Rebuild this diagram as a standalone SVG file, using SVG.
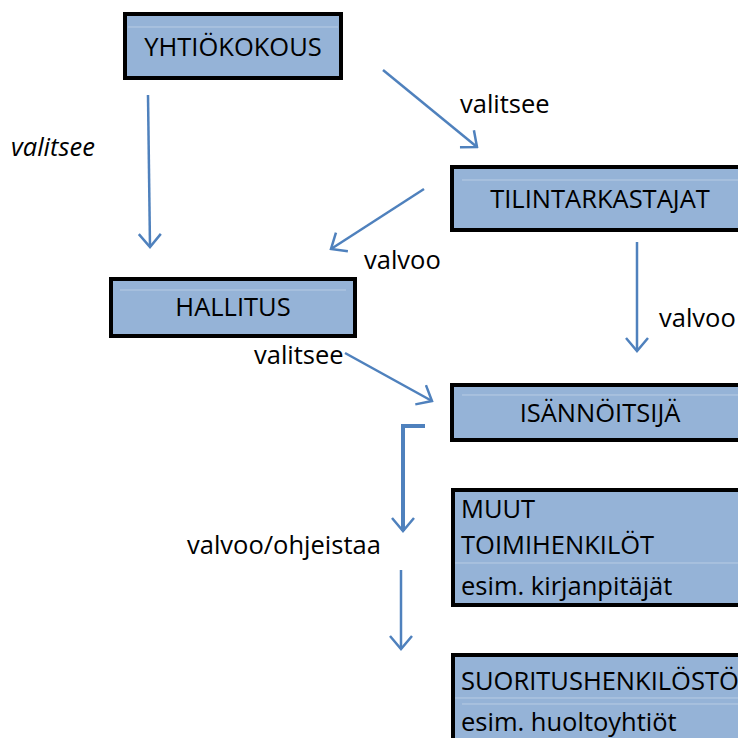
<svg xmlns="http://www.w3.org/2000/svg" width="738" height="738" viewBox="0 0 738 738">
<style>
.box{fill:#95b3d7;stroke:#000;stroke-width:4}
.hl{stroke:#b8cce4;stroke-width:1}
.t{font-family:"Open Sans","Liberation Sans",sans-serif;font-size:25.5px;fill:#000}
.c{stroke:#4f81bd;stroke-width:2.5;fill:none;marker-end:url(#ah)}
</style>
<defs>
<marker id="ah" viewBox="-14 -14 16 28" markerWidth="16" markerHeight="28" refX="0" refY="0" orient="auto" markerUnits="userSpaceOnUse">
<path d="M-13,-11 L0,0 L-13,11" fill="none" stroke="#4f81bd" stroke-width="2.5"/>
</marker>
</defs>
<rect width="738" height="738" fill="#fff"/>
<g id="yhtiokokous">
<rect class="box" x="125" y="14" width="216" height="64"/>
<line class="hl" x1="128" y1="27" x2="338" y2="27"/>
<text class="t" x="233" y="56" text-anchor="middle">YHTIÖKOKOUS</text>
</g>
<g id="tilintarkastajat">
<rect class="box" x="452" y="167" width="300" height="63"/>
<line class="hl" x1="462" y1="180" x2="738" y2="180"/>
<text class="t" x="600" y="208" text-anchor="middle">TILINTARKASTAJAT</text>
</g>
<g id="hallitus">
<rect class="box" x="111" y="279" width="244" height="57"/>
<line class="hl" x1="120" y1="290" x2="346" y2="290"/>
<text class="t" x="233" y="316" text-anchor="middle">HALLITUS</text>
</g>
<g id="isannoitsija">
<rect class="box" x="452" y="385" width="300" height="55"/>
<line class="hl" x1="462" y1="395" x2="738" y2="395"/>
<text class="t" x="600" y="422" text-anchor="middle">ISÄNNÖITSIJÄ</text>
</g>
<g id="muut">
<rect class="box" x="453" y="490" width="300" height="115"/>
<line class="hl" x1="455" y1="563" x2="738" y2="563"/>
<text class="t" x="461" y="518">MUUT</text>
<text class="t" x="461" y="554">TOIMIHENKILÖT</text>
<text class="t" x="461" y="595">esim. kirjanpitäjät</text>
</g>
<g id="suoritus">
<rect class="box" x="453" y="655" width="300" height="100"/>
<line class="hl" x1="455" y1="698" x2="738" y2="698"/>
<line class="hl" x1="462" y1="704" x2="738" y2="704"/>
<text class="t" x="461" y="690">SUORITUSHENKILÖSTÖ</text>
<text class="t" x="461" y="731">esim. huoltoyhtiöt</text>
</g>
<g id="connectors">
<line class="c" x1="148" y1="95" x2="150" y2="247"/>
<line class="c" x1="383" y1="70" x2="477" y2="147"/>
<line class="c" x1="424" y1="189" x2="331" y2="249"/>
<line class="c" x1="637" y1="242" x2="637" y2="351"/>
<line class="c" x1="345" y1="353" x2="432" y2="401"/>
<path class="c" d="M425,426 H403 V531" style="stroke-width:4"/>
<line class="c" x1="401" y1="570" x2="401" y2="649"/>
</g>
<g id="labels">
<text class="t" x="11" y="156" font-style="italic">valitsee</text>
<text class="t" x="460" y="113">valitsee</text>
<text class="t" x="364" y="269">valvoo</text>
<text class="t" x="659" y="327">valvoo</text>
<text class="t" x="254" y="364">valitsee</text>
<text class="t" x="187" y="554">valvoo/ohjeistaa</text>
</g>
</svg>
